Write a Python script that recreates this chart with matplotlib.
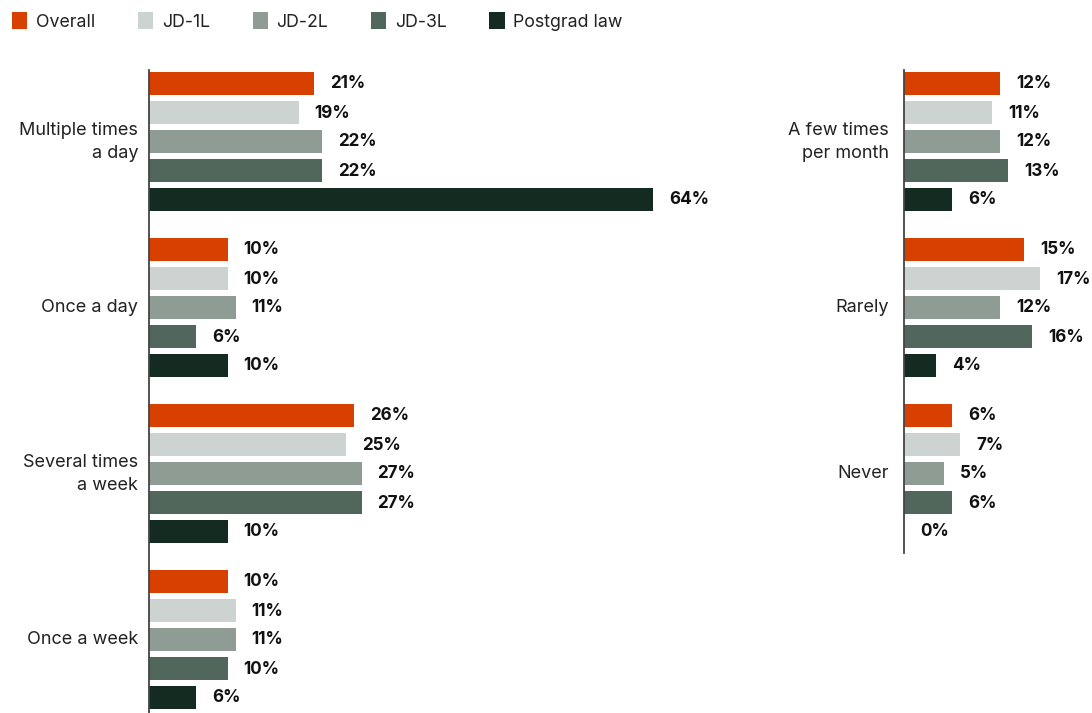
import matplotlib
matplotlib.use("Agg")
import matplotlib.pyplot as plt
from matplotlib.patches import Patch

plt.rcParams['font.family'] = ['Inter', 'DejaVu Sans']

series = ["Overall", "JD-1L", "JD-2L", "JD-3L", "Postgrad law"]
colors = ["#D84000", "#CDD3D0", "#8E9C94", "#52675C", "#142B22"]

left_categories = ["Multiple times\na day", "Once a day", "Several times\na week", "Once a week"]
left_values = [
    [21, 19, 22, 22, 64],
    [10, 10, 11, 6, 10],
    [26, 25, 27, 27, 10],
    [10, 11, 11, 10, 6],
]
right_categories = ["A few times\nper month", "Rarely", "Never"]
right_values = [
    [12, 11, 12, 13, 6],
    [15, 17, 12, 16, 4],
    [6, 7, 5, 6, 0],
]

W, H = 1092, 713
fig = plt.figure(figsize=(W / 100, H / 100), dpi=100)

GROUP_STEP = 166
BAR_STEP = 29
FIRST = 13
BAR_H = 23


def panel(x0_px, width_px, y_top_px, y_bot_px, xmax, cats, vals, label_gap):
    ax = fig.add_axes([x0_px / W, 1 - y_bot_px / H, width_px / W, (y_bot_px - y_top_px) / H])
    ax.set_xlim(0, xmax)
    ax.set_ylim(y_bot_px - y_top_px, 0)
    px_per_unit = width_px / xmax
    for g, (cat, row) in enumerate(zip(cats, vals)):
        for i, v in enumerate(row):
            y = FIRST + g * GROUP_STEP + i * BAR_STEP
            ax.barh(y, v, height=BAR_H, color=colors[i], linewidth=0)
            ax.text(v + 16 / px_per_unit, y + 1, f"{v}%", va="center", ha="left",
                    fontsize=12.3, fontweight="bold", color="#111111")
        yc = FIRST + g * GROUP_STEP + 2 * BAR_STEP
        ax.text(-label_gap / px_per_unit, yc + 1, cat, ha="right", va="center",
                fontsize=13, color="#222222", linespacing=1.4)
    for s in ["top", "right", "bottom"]:
        ax.spines[s].set_visible(False)
    ax.spines["left"].set_color("#444444")
    ax.spines["left"].set_linewidth(1.3)
    ax.set_xticks([])
    ax.set_yticks([])
    ax.patch.set_alpha(0)
    return ax


panel(149, 551, 70, 713, 70, left_categories, left_values, 11)
panel(904, 184, 70, 553, 23, right_categories, right_values, 15)

handles = [Patch(facecolor=c, edgecolor="none") for c in colors]
fig.legend(handles, series, loc="upper left", bbox_to_anchor=(-4 / W, 1 + 4 / H),
           ncol=5, frameon=False, fontsize=12.8, handlelength=0.85, handleheight=1.1,
           handletextpad=0.5, columnspacing=2.4, labelcolor="#222222")

fig.savefig("out.png", dpi=100, facecolor="white")
